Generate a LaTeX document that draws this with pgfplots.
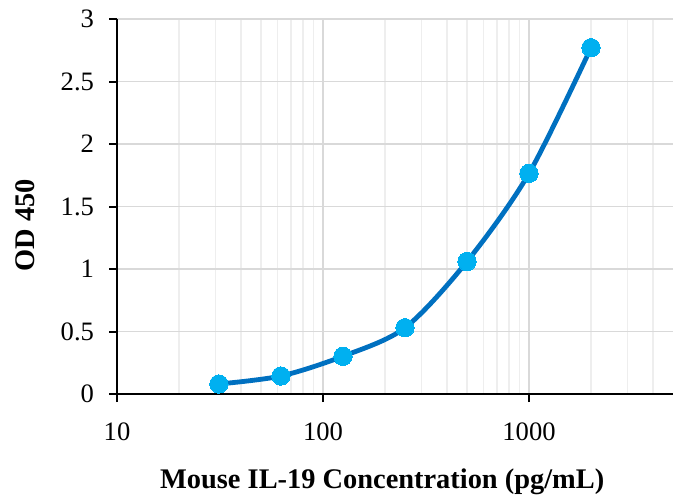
\documentclass[border=0pt]{standalone}
\usepackage{fontspec}
\setmainfont{Liberation Serif}
\usepackage{pgfplots}
\pgfplotsset{compat=1.18}
\definecolor{linec}{HTML}{0070C0}
\definecolor{markc}{HTML}{00B0F0}
\definecolor{majgrid}{HTML}{D9D9D9}
\definecolor{mingrid}{HTML}{EEEEEE}
\begin{document}
\fontsize{13}{15}\selectfont
\begin{tikzpicture}
\begin{axis}[
  scale only axis,
  width=278pt, height=187.5pt,
  xmode=log,
  xmin=10, xmax=5000,
  ymin=0, ymax=3,
  axis x line=bottom, axis y line=left,
  axis line style={black, line width=1pt, -},
  xtick={10,100,1000}, xticklabels={10,100,1000},
  minor xtick={20,30,40,50,60,70,80,90,200,300,400,500,600,700,800,900,2000,3000,4000},
  ytick={0,0.5,1,1.5,2,2.5,3},
  yticklabels={0,0.5,1,1.5,2,2.5,3},
  tick align=outside,
  major tick length=4pt,
  minor tick length=0pt,
  major tick style={black, line width=1pt},
  xmajorgrids, xminorgrids, ymajorgrids,
  major grid style={majgrid, line width=0.6pt},
  minor grid style={mingrid, line width=0.6pt},
  tick label style={font=\fontsize{13.3}{15}\selectfont},
  /pgf/number format/assume math mode=true,
  xticklabel style={yshift=-6pt},
  yticklabel style={xshift=-3pt},
  xlabel={\textbf{Mouse IL-19 Concentration (pg/mL)}},
  ylabel={\textbf{OD 450}},
  xlabel style={at={(axis description cs:0.477,-0.235)}, anchor=center, font=\fontsize{14.2}{16}\selectfont},
  ylabel style={at={(axis description cs:-0.165,0.45)}, anchor=center, font=\fontsize{14.2}{16}\selectfont},
  clip=false,
]
\addplot[linec, line width=2.4pt, smooth, tension=0.5,
  mark=*, mark size=4.6pt, mark options={fill=markc, draw=markc, line width=0pt}]
  coordinates {
  (31.25,0.08) (62.5,0.144) (125,0.302) (250,0.53) (500,1.06) (1000,1.765) (2000,2.77)
};
\end{axis}
\pgfresetboundingbox
\path[use as bounding box] (-58.5pt,-50pt) rectangle (278.5pt,197pt);
\end{tikzpicture}
\end{document}
